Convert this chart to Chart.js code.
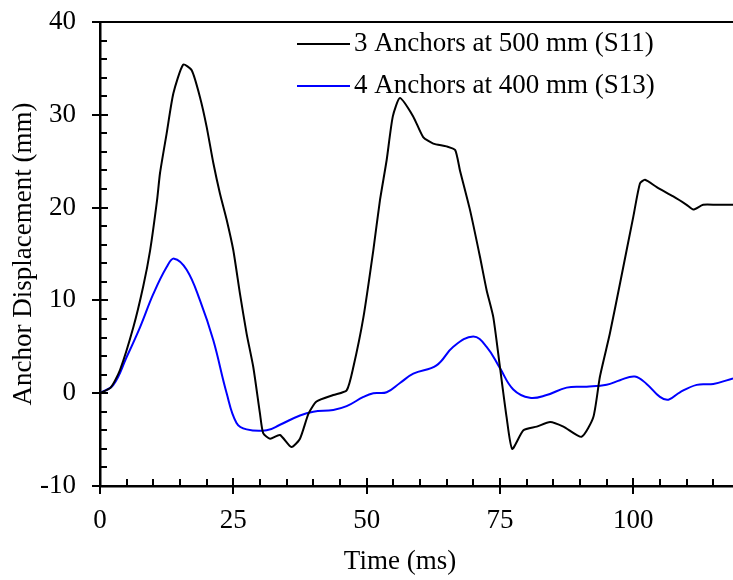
<!DOCTYPE html>
<html>
<head>
<meta charset="utf-8">
<script src="https://cdn.jsdelivr.net/npm/chart.js@4"></script>
<style>
  html, body { margin: 0; padding: 0; background: #fff; }
  #wrap { width: 733px; height: 580px; }
</style>
</head>
<body>
<div id="wrap"><canvas id="dispChart"></canvas></div>
<script>
// S11 - 3 anchors at 500 mm
var timeS11 = [0, 2, 3.75, 6.25, 8.1, 9.4, 10.7, 11.25, 12.5, 13.75, 15.6, 17.2, 18.75, 20, 21.25, 22.5, 23.75,
  25, 26.25, 27.5, 28.75, 30, 30.6, 31.9, 33.75, 35.9, 37.5, 39.1, 40.6, 43.75, 46.25, 47.5, 49.4, 51.25,
  52.5, 53.75, 54.9, 56.25, 58.75, 60.6, 62.5, 65, 66.6, 67.5, 69.4, 71.25, 72.5, 73.75, 75, 76.25, 77.3,
  79.4, 81.9, 84.4, 86.9, 90.3, 92.5, 93.75, 95.6, 97.5, 100, 101.25, 102.2, 104.4, 107.5, 110, 111.25,
  113.1, 115.6, 118.7];
var dispS11 = [0, 0.6, 2.5, 7.1, 11.5, 15.4, 20.8, 23.7, 28, 32.3, 35.4, 34.8, 31.9, 28.7, 24.8, 21.5, 18.7,
  15.4, 10.7, 6.4, 2.8, -2.2, -4.3, -4.9, -4.5, -5.8, -4.9, -2.2, -0.9, -0.2, 0.3, 2.8, 8.2, 15.4,
  20.8, 25.1, 29.8, 31.8, 29.8, 27.6, 26.9, 26.6, 26.2, 24, 19.7, 14.7, 11.1, 8.2, 2.8, -2.6, -6.0,
  -4.0, -3.6, -3.1, -3.6, -4.7, -2.6, 1.8, 6.4, 11.8, 19, 22.6, 23.0, 22.2, 21.2, 20.3, 19.8,
  20.3, 20.3, 20.3];

// S13 - 4 anchors at 400 mm
var timeS13 = [0, 2.5, 5, 7.5, 10, 12.5, 13.9, 16.25, 18.75, 21.25, 23.75, 25.6, 27.5, 31.25, 33.75, 37.5,
  40, 43.75, 46.25, 49.4, 51.25, 53.75, 56.25, 58.75, 63.1, 66.25, 70, 72.5, 75, 77.5, 80.6, 83.75,
  87.5, 91.25, 95, 97.5, 100.3, 102.5, 105, 106.6, 108.75, 111.9, 115, 118.7];
var dispS13 = [0, 0.9, 3.9, 7.1, 10.7, 13.6, 14.5, 13.3, 10.0, 5.7, 0, -3.2, -3.9, -4.0, -3.4, -2.4,
  -2.0, -1.8, -1.4, -0.4, 0, 0.1, 1.1, 2.1, 3.0, 5.0, 6.1, 5.0, 2.7, 0.4, -0.5, -0.2,
  0.6, 0.7, 0.9, 1.4, 1.8, 1.0, -0.4, -0.7, 0.1, 0.9, 1.0, 1.6];

var xTickLabels = [0, 25, 50, 75, 100];
var xMinorStep = 5;
var yMinorStep = 2;

function toPoints(xs, ys) {
  return xs.map(function (t, i) { return { x: t, y: ys[i] }; });
}

var serif = '"Liberation Serif", "Times New Roman", serif';

// ticks pointing into the plot, majors crossing the axis, plus the top frame line
var tickMarks = {
  id: 'tickMarks',
  afterDraw: function (chart) {
    var ctx = chart.ctx, a = chart.chartArea, x = chart.scales.x, y = chart.scales.y;
    ctx.save();
    ctx.strokeStyle = '#000';
    ctx.lineWidth = 2;
    ctx.beginPath();
    ctx.moveTo(a.left - 8, a.top);
    ctx.lineTo(a.right, a.top);
    for (var v = x.min; v <= x.max; v += xMinorStep) {
      var px = Math.round(x.getPixelForValue(v));
      var major = xTickLabels.indexOf(v) >= 0;
      ctx.moveTo(px, a.bottom + (major ? 8 : 0));
      ctx.lineTo(px, a.bottom - (major ? 8 : 7));
    }
    for (var w = y.min; w <= y.max; w += yMinorStep) {
      var py = Math.round(y.getPixelForValue(w));
      var maj = w % 10 === 0;
      ctx.moveTo(a.left - (maj ? 8 : 0), py);
      ctx.lineTo(a.left + (maj ? 8 : 7), py);
    }
    ctx.stroke();
    // x axis title, sits a little left of the plot centre in the original
    ctx.font = '27px ' + serif;
    ctx.fillStyle = '#000';
    ctx.textAlign = 'center';
    ctx.textBaseline = 'middle';
    ctx.fillText('Time (ms)', 400, 562);
    ctx.restore();
  }
};

// legend drawn inside the plot, top right
var innerLegend = {
  id: 'innerLegend',
  afterDraw: function (chart) {
    var ctx = chart.ctx;
    ctx.save();
    ctx.font = '27px ' + serif;
    ctx.textBaseline = 'middle';
    ctx.fillStyle = '#000';
    chart.data.datasets.forEach(function (ds, i) {
      var yy = 44 + i * 42;
      ctx.strokeStyle = ds.borderColor;
      ctx.lineWidth = 2;
      ctx.beginPath();
      ctx.moveTo(297, yy);
      ctx.lineTo(350, yy);
      ctx.stroke();
      ctx.fillText(ds.label, 354, yy);
    });
    ctx.restore();
  }
};

var ctx = document.getElementById('dispChart').getContext('2d');
var myChart = new Chart(ctx, {
  type: 'line',
  data: {
    datasets: [{
      label: '3 Anchors at 500 mm (S11)',
      data: toPoints(timeS11, dispS11),
      borderColor: '#000000',
      borderWidth: 2,
      pointRadius: 0,
      tension: 0.2
    }, {
      label: '4 Anchors at 400 mm (S13)',
      data: toPoints(timeS13, dispS13),
      borderColor: '#0000ff',
      borderWidth: 2,
      pointRadius: 0,
      tension: 0.4
    }]
  },
  options: {
    responsive: true,
    maintainAspectRatio: false,
    animation: false,
    layout: { padding: { top: 22, right: 0, left: 0, bottom: 0 } },
    plugins: {
      legend: { display: false },
      tooltip: { enabled: false }
    },
    scales: {
      x: {
        type: 'linear',
        min: 0,
        max: 118.7,
        afterBuildTicks: function (scale) {
          scale.ticks = xTickLabels.map(function (v) { return { value: v }; });
        },
        afterFit: function (scale) {
          scale.height = 94;
          scale.paddingLeft = 0;
          scale.paddingRight = 0;
        },
        grid: { display: false, drawTicks: false },
        border: { display: true, color: '#000', width: 2.5 },
        ticks: { color: '#000', font: { family: serif, size: 27 }, padding: 19, maxRotation: 0 },
        title: { display: false }
      },
      y: {
        min: -10,
        max: 40,
        ticks: { stepSize: 10, color: '#000', font: { family: serif, size: 27 }, padding: 24 },
        afterFit: function (scale) {
          scale.width = 100;
          scale.paddingTop = 0;
          scale.paddingBottom = 0;
        },
        grid: { display: false, drawTicks: false },
        border: { display: true, color: '#000', width: 2.5 },
        title: { display: true, text: 'Anchor Displacement (mm)', color: '#000', font: { family: serif, size: 27 }, padding: 8 }
      }
    }
  },
  plugins: [tickMarks, innerLegend]
});
</script>
</body>
</html>
